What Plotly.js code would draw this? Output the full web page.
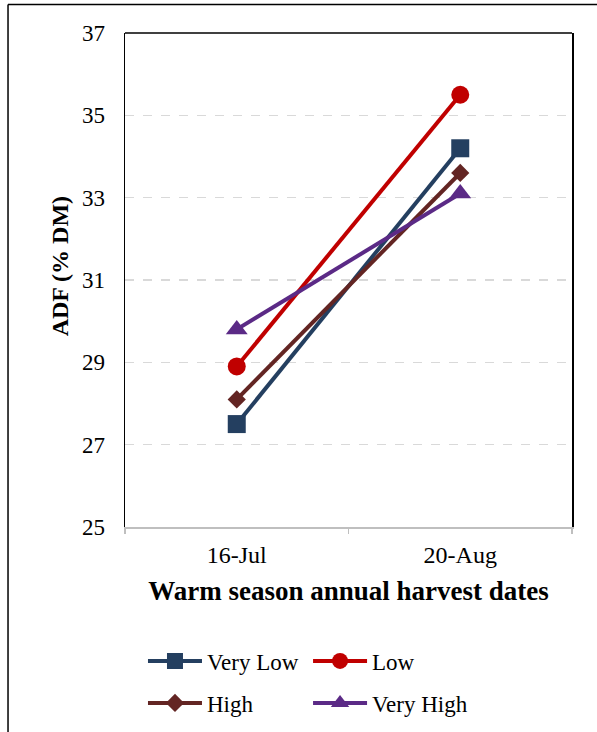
<!DOCTYPE html>
<html>
<head>
<meta charset="utf-8">
<script src="https://cdn.plot.ly/plotly-3.0.1.min.js"></script>
<style>
html,body{margin:0;padding:0;background:#fff;}
#chart{width:597px;height:732px;}
</style>
</head>
<body>
<div id="chart"></div>
<script>
const categories = ["16-Jul", "20-Aug"];
const seriesNames = ["Very Low", "Low", "High", "Very High"];
const veryLow = [27.5, 34.2];
const low = [28.9, 35.5];
const high = [28.1, 33.6];
const veryHigh = [29.8, 33.1];
const yTicks = [25, 27, 29, 31, 33, 35, 37];
const xTitle = "Warm season annual harvest dates";
const yTitle = "ADF (% DM)";

const FONT = "Liberation Serif";

const styles = [
  {color: "#243F60", symbol: "square", size: 18, legend: "legend"},
  {color: "#C00000", symbol: "circle", size: 18, legend: "legend2"},
  {color: "#632523", symbol: "diamond", size: 14, legend: "legend3"},
  {color: "#5B2A86", symbol: "triangle-up", size: 19, legend: "legend4"}
];
const values = [veryLow, low, high, veryHigh];

const traces = values.map((vals, i) => ({
  type: "scatter",
  mode: "lines+markers",
  x: categories,
  y: vals,
  name: seriesNames[i],
  legend: styles[i].legend,
  line: {color: styles[i].color, width: 4},
  marker: {color: styles[i].color, symbol: styles[i].symbol, size: styles[i].size},
  cliponaxis: false
}));

function legendAt(x, y) {
  return {
    xref: "container",
    yref: "container",
    x: x,
    y: y,
    xanchor: "left",
    yanchor: "middle",
    orientation: "v",
    itemwidth: 54,
    font: {family: FONT, size: 23, color: "#000"},
    bgcolor: "rgba(0,0,0,0)",
    borderwidth: 0
  };
}

const layout = {
  width: 597,
  height: 732,
  margin: {l: 125, r: 25, t: 33, b: 205, autoexpand: false},
  paper_bgcolor: "#fff",
  plot_bgcolor: "#fff",
  font: {family: FONT, size: 23, color: "#000"},
  showlegend: true,
  xaxis: {
    type: "category",
    categoryorder: "array",
    categoryarray: categories,
    range: [-0.5, 1.5],
    showline: true,
    linecolor: "#bfbfbf",
    linewidth: 1.5,
    ticks: "outside",
    tickson: "boundaries",
    ticklen: 5,
    tickcolor: "#bfbfbf",
    tickwidth: 1.5,
    showgrid: false,
    zeroline: false,
    tickfont: {family: FONT, size: 24, color: "#000"},
    ticklabelstandoff: 6,
    title: {text: "<b>" + xTitle + "</b>", font: {family: FONT, size: 27, color: "#000"}, standoff: 14},
    automargin: false,
    fixedrange: true
  },
  yaxis: {
    range: [25, 37],
    tickvals: yTicks,
    ticktext: yTicks.map(String),
    showline: true,
    mirror: true,
    linecolor: "#000",
    linewidth: 1.5,
    ticks: "",
    showgrid: true,
    gridcolor: "#d9d9d9",
    gridwidth: 1.5,
    griddash: "dash",
    zeroline: false,
    tickfont: {family: FONT, size: 23, color: "#000"},
    ticklabelstandoff: 14,
    automargin: false,
    fixedrange: true
  },
  annotations: [
    {
      text: "<b>" + yTitle + "</b>",
      xref: "paper", yref: "paper",
      x: -0.145, y: 0.528,
      xanchor: "center", yanchor: "middle",
      textangle: -90,
      showarrow: false,
      font: {family: FONT, size: 24, color: "#000"}
    }
  ],
  legend: legendAt(0.2395, 0.097),
  legend2: legendAt(0.516, 0.097),
  legend3: legendAt(0.2395, 0.0396),
  legend4: legendAt(0.516, 0.0396),
  shapes: [
    {type: "line", xref: "paper", yref: "paper", x0: 0, x1: 1, y0: 1, y1: 1, line: {color: "#000", width: 1.5}},
    {type: "line", xref: "paper", yref: "paper", x0: -0.2617, x1: 1.1, y0: 1.0577, y1: 1.0577, line: {color: "#000", width: 1.5}},
    {type: "line", xref: "paper", yref: "paper", x0: -0.2617, x1: -0.2617, y0: 1.0577, y1: -0.45, line: {color: "#000", width: 1.5}}
  ]
};

Plotly.newPlot("chart", traces, layout, {displayModeBar: false, staticPlot: true});
</script>
</body>
</html>
